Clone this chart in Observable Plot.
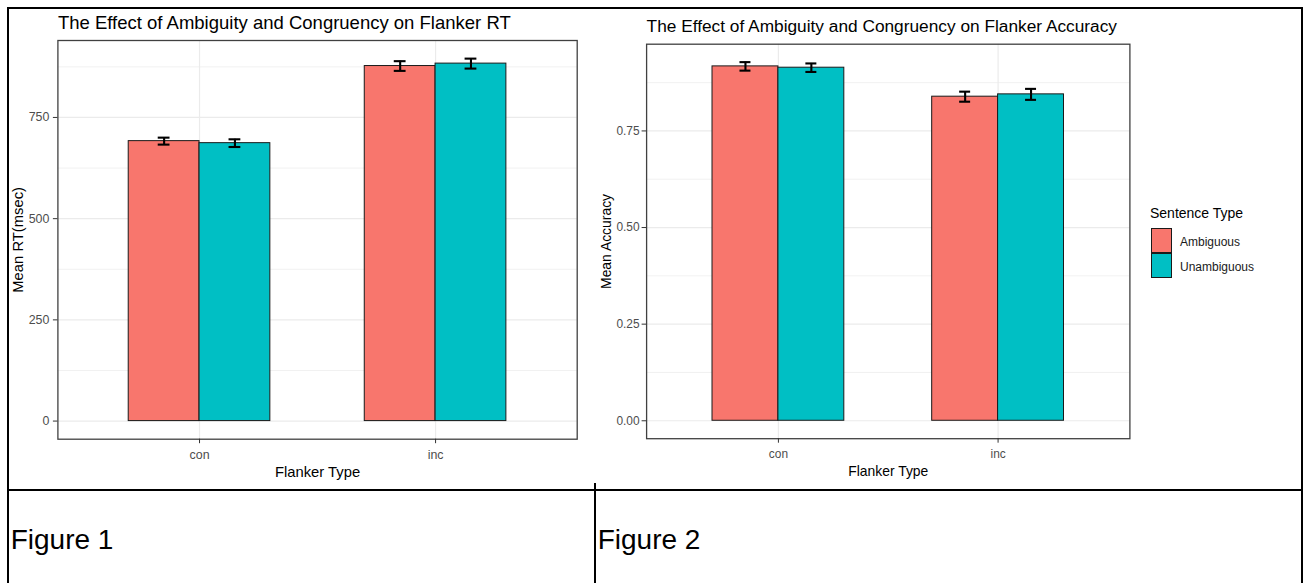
<!DOCTYPE html>
<html><head><meta charset="utf-8">
<script src="https://cdn.jsdelivr.net/npm/d3@7"></script>
<script src="https://cdn.jsdelivr.net/npm/@observablehq/plot@0.6"></script>
<style>
body{margin:0;background:#fff;}
#page{position:relative;width:1304px;height:583px;overflow:hidden;background:#fff;font-family:"Liberation Sans",Arial,sans-serif;}
.line{position:absolute;background:#000;}
.txt{position:absolute;white-space:nowrap;line-height:1;color:#000;}
.chart{position:absolute;}
.chart svg [aria-label="y-axis tick label"], .chart svg [aria-label="x-axis tick label"]{fill:#4D4D4D;}
</style></head><body><div id="page"></div>
<script>
// ---------- data ----------
const flankerTypes = ["con", "inc"];
const sentenceTypes = ["Ambiguous", "Unambiguous"];
const sentenceColors = ["#F8766D", "#00BFC4"];

const rtAmbiguous = [691.5, 877];
const rtUnambiguous = [686.5, 883];
const rtAmbiguousSE = [8.6, 12];
const rtUnambiguousSE = [9.5, 12.3];
const rtTicks = [0, 250, 500, 750];
const rtTickLabels = ["0", "250", "500", "750"];

const accAmbiguous = [0.917, 0.8386];
const accUnambiguous = [0.9136, 0.8446];
const accAmbiguousSE = [0.011, 0.013];
const accUnambiguousSE = [0.011, 0.0142];
const accTicks = [0, 0.25, 0.5, 0.75];
const accTickLabels = ["0.00", "0.25", "0.50", "0.75"];

// ---------- helpers ----------
function buildRows(ambMeans, unMeans, ambSE, unSE) {
  const rows = [];
  flankerTypes.forEach((f, i) => {
    rows.push({flanker: f, fi: i + 1, sentence: sentenceTypes[0], si: 0, mean: ambMeans[i], se: ambSE[i]});
    rows.push({flanker: f, fi: i + 1, sentence: sentenceTypes[1], si: 1, mean: unMeans[i], se: unSE[i]});
  });
  return rows;
}
const BAR = 0.3, CAP = 0.025;
function minorOf(ticks) {
  const step = ticks[1] - ticks[0];
  return ticks.map(t => t + step / 2);
}

function makeChart(cfg) {
  const rows = cfg.rows;
  const maxV = d3.max(rows, d => d.mean + d.se);
  const lo = -0.05 * maxV, hi = maxV * 1.05;
  const center = d => d.fi + (d.si - 0.5) * BAR;
  const grid = "#EBEBEB";
  return Plot.plot({
    width: cfg.width, height: cfg.height,
    marginLeft: cfg.ml, marginRight: cfg.mr, marginTop: cfg.mt, marginBottom: cfg.mb,
    style: {fontFamily: "Liberation Sans, Arial, sans-serif", background: "white"},
    x: {type: "linear", domain: [0.4, 2.6], axis: null},
    y: {domain: [lo, hi], axis: null},
    color: {domain: sentenceTypes, range: sentenceColors},
    marks: [
      Plot.gridY(minorOf(cfg.ticks), {stroke: grid, strokeOpacity: 1, strokeWidth: 0.7}),
      Plot.gridY(cfg.ticks, {stroke: grid, strokeOpacity: 1, strokeWidth: 1.2}),
      Plot.gridX([1, 2], {stroke: grid, strokeOpacity: 1, strokeWidth: 1.2}),
      Plot.rect(rows, {
        x1: d => d.fi + (d.si - 1) * BAR, x2: d => d.fi + d.si * BAR,
        y1: 0, y2: "mean", fill: "sentence", stroke: "#1a1a1a", strokeWidth: 1
      }),
      Plot.ruleX(rows, {x: center, y1: d => d.mean - d.se, y2: d => d.mean + d.se, stroke: "black", strokeWidth: 2.1}),
      Plot.ruleY(rows, {x1: d => center(d) - CAP, x2: d => center(d) + CAP, y: d => d.mean + d.se, stroke: "black", strokeWidth: 2.1}),
      Plot.ruleY(rows, {x1: d => center(d) - CAP, x2: d => center(d) + CAP, y: d => d.mean - d.se, stroke: "black", strokeWidth: 2.1}),
      Plot.frame({stroke: "#404040", strokeWidth: 1.3}),
      Plot.axisY(cfg.ticks, {tickFormat: (t, i) => cfg.tickLabels[cfg.ticks.indexOf(t)], tickSize: 4.5, tickPadding: cfg.ytp, fontSize: cfg.tickFont, color: "#333333", label: null}),
      Plot.axisX([1, 2], {tickFormat: t => flankerTypes[t - 1], tickSize: 4.5, tickPadding: cfg.xtp, fontSize: cfg.tickFont, color: "#333333", label: null}),
      Plot.text([cfg.title], {text: d => d, frameAnchor: "top-left", textAnchor: "start", lineAnchor: "bottom", dy: cfg.titleDy, fontSize: cfg.titleFont, fill: "black"}),
      Plot.text([cfg.ylabel], {text: d => d, frameAnchor: "left", rotate: -90, textAnchor: "middle", lineAnchor: "middle", dx: cfg.ylDx, fontSize: cfg.labelFont, fill: "black"}),
      Plot.text([cfg.xlabel], {text: d => d, frameAnchor: "bottom", textAnchor: "middle", lineAnchor: "bottom", dy: cfg.xlDy, fontSize: cfg.labelFont, fill: "black"})
    ]
  });
}

const page = document.getElementById("page");
function place(el, left, top) {
  const wrap = document.createElement("div");
  wrap.className = "chart";
  wrap.style.left = left + "px";
  wrap.style.top = top + "px";
  wrap.appendChild(el);
  page.appendChild(wrap);
  return wrap;
}
function addText(str, left, baseline, size, extra) {
  const d = document.createElement("div");
  d.className = "txt";
  d.textContent = str;
  d.style.left = left + "px";
  d.style.top = (baseline - 0.8465 * size) + "px";
  d.style.fontSize = size + "px";
  if (extra) Object.assign(d.style, extra);
  page.appendChild(d);
  return d;
}
function addLine(left, top, width, height) {
  const d = document.createElement("div");
  d.className = "line";
  Object.assign(d.style, {left: left + "px", top: top + "px", width: width + "px", height: height + "px"});
  page.appendChild(d);
}

// ---------- chart 1 ----------
const chart1 = makeChart({
  rows: buildRows(rtAmbiguous, rtUnambiguous, rtAmbiguousSE, rtUnambiguousSE),
  ticks: rtTicks, tickLabels: rtTickLabels,
  width: 586, height: 474, ml: 49.4, mr: 17.3, mt: 31, mb: 44.3,
  ytp: 4, xtp: 6.3, tickFont: 12.4, titleFont: 18.5, labelFont: 14.8,
  title: "The Effect of Ambiguity and Congruency on Flanker RT", titleDy: -11.7,
  ylabel: "Mean RT(msec)", ylDx: -39.8,
  xlabel: "Flanker Type", xlDy: 37.3
});
place(chart1, 8, 9);

// ---------- chart 2 ----------
const chart2 = makeChart({
  rows: buildRows(accAmbiguous, accUnambiguous, accAmbiguousSE, accUnambiguousSE),
  ticks: accTicks, tickLabels: accTickLabels,
  width: 705, height: 474, ml: 50.1, mr: 171.6, mt: 34.7, mb: 44.8,
  ytp: 2.5, xtp: 6.2, tickFont: 11.9, titleFont: 17.3, labelFont: 13.9,
  title: "The Effect of Ambiguity and Congruency on Flanker Accuracy", titleDy: -12,
  ylabel: "Mean Accuracy", ylDx: -40,
  xlabel: "Flanker Type", xlDy: 37
});
place(chart2, 596, 9);

// ---------- legend (chart 2) ----------
addText("Sentence Type", 1150, 218, 14, {color: "#000"});
sentenceTypes.forEach((s, i) => {
  const key = document.createElement("div");
  Object.assign(key.style, {
    position: "absolute", left: "1150.7px", top: (227.7 + i * 25.3) + "px",
    width: "21.6px", height: "25.3px", boxSizing: "border-box",
    background: sentenceColors[i], border: "1.2px solid #1a1a1a"
  });
  page.appendChild(key);
  addText(s, 1180, 246 + i * 25.5, 12, {color: "#1a1a1a"});
});

// ---------- table frame and captions ----------
addLine(6.7, 7, 1296.3, 2);
addLine(6.7, 7, 2, 576);
addLine(1301, 7, 2, 576);
addLine(6.7, 489, 1296.3, 2);
addLine(594, 483, 2, 100);
addText("Figure 1", 10.7, 550, 28);
addText("Figure 2", 597.7, 550, 28);
</script></body></html>
